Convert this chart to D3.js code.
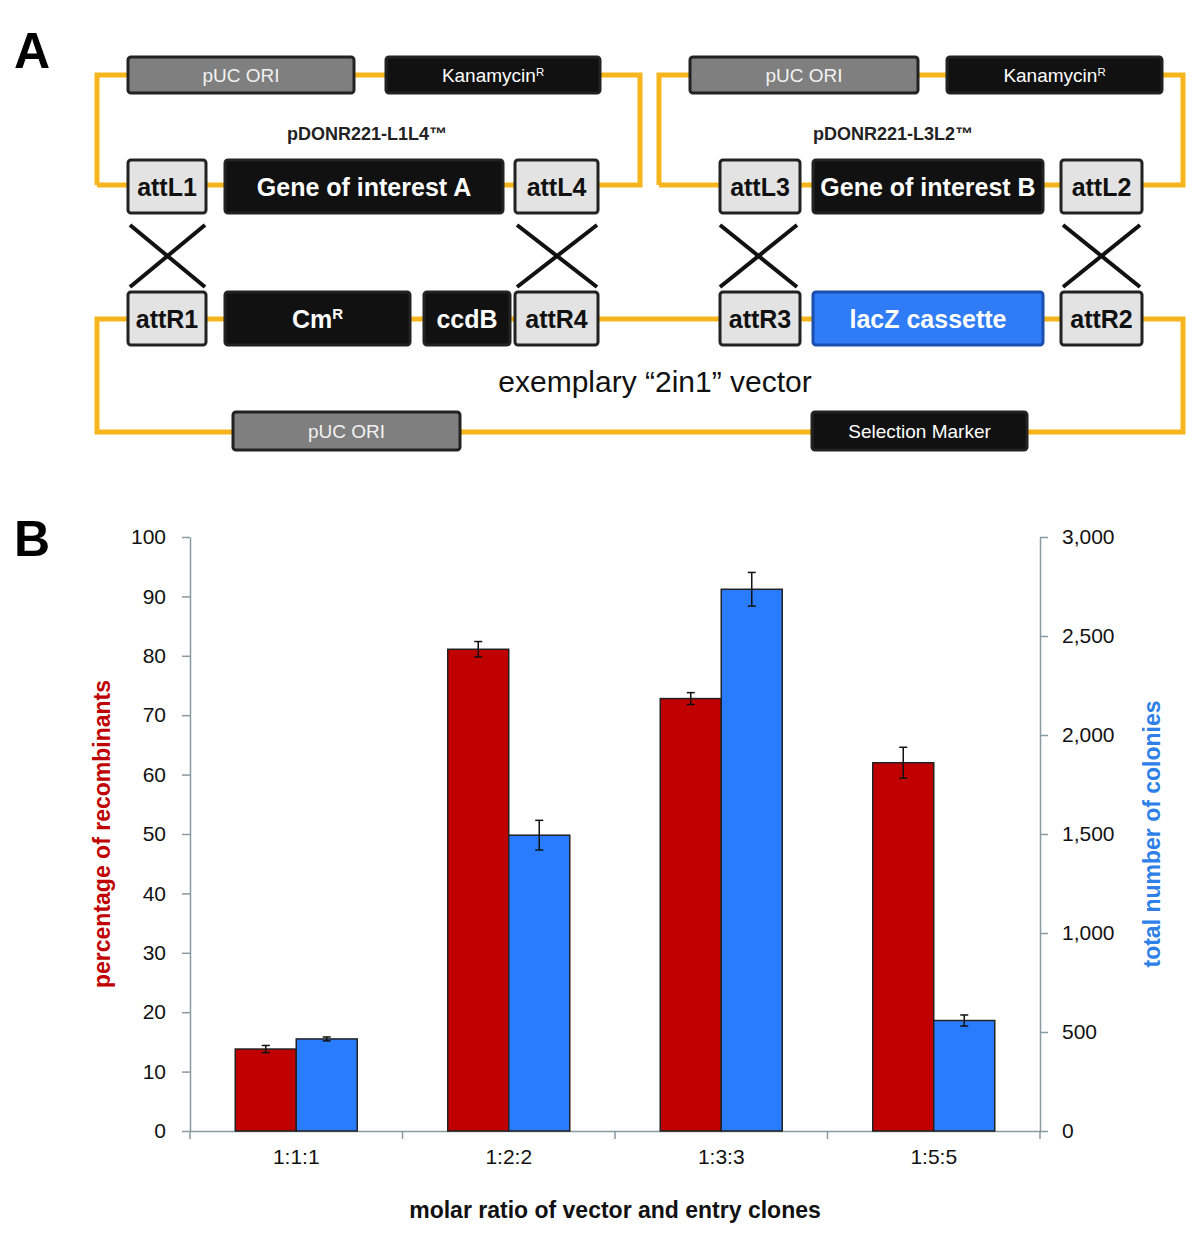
<!DOCTYPE html>
<html>
<head>
<meta charset="utf-8">
<script src="https://cdn.jsdelivr.net/npm/d3@7"></script>
<style>
  body { margin: 0; background: #fff; }
  svg { display: block; font-family: "Liberation Sans", Arial, sans-serif; }
</style>
</head>
<body>
<div id="chart"></div>
<script>
const categories = ['1:1:1', '1:2:2', '1:3:3', '1:5:5']
const recombinants = [13.8, 81.1, 72.8, 62.0]
const recombinantsErr = [0.6, 1.3, 1.0, 2.6]
const colonies = [465, 1494, 2736, 558]
const coloniesErr = [10, 75, 85, 28]
const leftTicks = [0, 10, 20, 30, 40, 50, 60, 70, 80, 90, 100]
const rightTicks = [0, 500, 1000, 1500, 2000, 2500, 3000]

// panel A boxes: [x0, x1, y0, y1, label, kind, sup]
const boxes = [
  [128, 354, 57, 93, 'pUC ORI', 'grey'], [386, 600, 57, 93, 'Kanamycin', 'black', 'R'],
  [690, 918, 57, 93, 'pUC ORI', 'grey'], [947, 1162, 57, 93, 'Kanamycin', 'black', 'R'],
  [128, 206, 160, 213, 'attL1', 'light'], [225, 503, 160, 213, 'Gene of interest A', 'bigblack'],
  [515, 598, 160, 213, 'attL4', 'light'], [720, 800, 160, 213, 'attL3', 'light'],
  [813, 1043, 160, 213, 'Gene of interest B', 'bigblack'], [1061, 1142, 160, 213, 'attL2', 'light'],
  [128, 206, 292, 345, 'attR1', 'light'], [225, 410, 292, 345, 'Cm', 'bigblack', 'R'],
  [424, 510, 292, 345, 'ccdB', 'bigblack'], [515, 598, 292, 345, 'attR4', 'light'],
  [720, 800, 292, 345, 'attR3', 'light'], [813, 1043, 292, 345, 'lacZ cassette', 'blue'],
  [1061, 1142, 292, 345, 'attR2', 'light'],
  [233, 460, 412, 450, 'pUC ORI', 'grey'], [812, 1027, 412, 450, 'Selection Marker', 'black']
]
const crosses = [[130, 205], [517, 597], [720, 797], [1063, 1140]]

const svg = d3.select('#chart').append('svg').attr('width', 1200).attr('height', 1243)
const orange = '#f7b51c'

// ---- panel A ----
const a = svg.append('g')
a.append('text').attr('x', 14).attr('y', 68).attr('font-size', 50).attr('font-weight', 'bold').text('A')
const loops = [
  'M97,185 V75 H640 V185 H97', 'M659,185 V75 H1183 V185 H659',
  'M97,432 V319 H1183 V432 Z'
]
a.selectAll('path.loop').data(loops).join('path')
  .attr('d', d => d).attr('fill', 'none').attr('stroke', orange).attr('stroke-width', 5)
a.selectAll('line.cross').data(crosses.flatMap(c => [[c[0], 225, c[1], 287], [c[0], 287, c[1], 225]])).join('line')
  .attr('x1', d => d[0]).attr('y1', d => d[1]).attr('x2', d => d[2]).attr('y2', d => d[3])
  .attr('stroke', '#111').attr('stroke-width', 4)

const fills = { grey: '#7f7f7f', black: '#111', bigblack: '#111', light: '#e3e3e3', blue: '#2f7cf6' }
const bg = a.selectAll('g.box').data(boxes).join('g')
bg.append('rect')
  .attr('x', d => d[0]).attr('y', d => d[2]).attr('width', d => d[1] - d[0]).attr('height', d => d[3] - d[2])
  .attr('rx', 3).attr('fill', d => fills[d[5]])
  .attr('stroke', d => d[5] === 'blue' ? '#1a4fb0' : '#222').attr('stroke-width', 3)
const bt = bg.append('text')
  .attr('x', d => (d[0] + d[1]) / 2).attr('y', d => (d[2] + d[3]) / 2)
  .attr('dy', '0.36em').attr('text-anchor', 'middle')
  .attr('font-family', '"Liberation Sans Narrow", "Liberation Sans", Arial, sans-serif')
  .attr('font-size', d => d[5] === 'grey' || d[5] === 'black' ? 19 : 25)
  .attr('font-weight', d => d[5] === 'grey' || d[5] === 'black' ? 'normal' : 'bold')
  .attr('fill', d => d[5] === 'light' ? '#111' : (d[5] === 'grey' ? '#f2f2f2' : '#fff'))
  .text(d => d[4])
bt.filter(d => d[6]).append('tspan').attr('dy', '-0.55em').attr('font-size', '0.6em').text(d => d[6])

a.selectAll('text.title').data([[367, 'pDONR221-L1L4™'], [893, 'pDONR221-L3L2™']]).join('text')
  .attr('x', d => d[0]).attr('y', 140).attr('text-anchor', 'middle')
  .attr('font-size', 18).attr('font-weight', 'bold').attr('fill', '#222').text(d => d[1])
a.append('text').attr('x', 655).attr('y', 392).attr('text-anchor', 'middle')
  .attr('font-size', 30).attr('fill', '#111').text('exemplary \u201c2in1\u201d vector')

// ---- panel B ----
svg.append('text').attr('x', 14).attr('y', 556).attr('font-size', 50).attr('font-weight', 'bold').text('B')
const x0 = d3.scaleBand().domain(categories).range([190, 1040])
const x1 = d3.scaleBand().domain(['r', 'b']).range([0, 122]).paddingInner(0)
const yL = d3.scaleLinear().domain([0, 100]).range([1131, 537])
const yR = d3.scaleLinear().domain([0, 3000]).range([1131, 537])

const axisStyle = g => {
  g.selectAll('path,line').attr('stroke', '#8a9aa0').attr('stroke-width', 1.5)
  g.selectAll('text').attr('font-size', 21).attr('fill', '#111')
}
svg.append('g').attr('transform', 'translate(190,0)')
  .call(d3.axisLeft(yL).tickValues(leftTicks).tickSize(8).tickSizeOuter(0).tickPadding(16)).call(axisStyle)
svg.append('g').attr('transform', 'translate(1040,0)')
  .call(d3.axisRight(yR).tickValues(rightTicks).tickSize(8).tickSizeOuter(0).tickPadding(14)).call(axisStyle)
const xa = svg.append('g').attr('transform', 'translate(0,1131)')
  .call(d3.axisBottom(x0).tickSize(0).tickPadding(18)).call(axisStyle)
xa.selectAll('line.bnd').data(categories.concat(['end'])).join('line')
  .attr('x1', (d, i) => 190 + i * x0.step()).attr('x2', (d, i) => 190 + i * x0.step())
  .attr('y1', 0).attr('y2', 8).attr('stroke', '#8a9aa0').attr('stroke-width', 1.5)

const rows = categories.map((c, i) => ({ c, r: recombinants[i], re: recombinantsErr[i], b: colonies[i], be: coloniesErr[i] }))
const grp = svg.append('g').selectAll('g').data(rows).join('g')
  .attr('transform', d => `translate(${x0(d.c) + (x0.bandwidth() - 122) / 2},0)`)
grp.append('rect').attr('x', x1('r')).attr('width', x1.bandwidth())
  .attr('y', d => yL(d.r)).attr('height', d => yL(0) - yL(d.r))
  .attr('fill', '#c00000').attr('stroke', '#222').attr('stroke-width', 1.5)
grp.append('rect').attr('x', x1('b')).attr('width', x1.bandwidth())
  .attr('y', d => yR(d.b)).attr('height', d => yR(0) - yR(d.b))
  .attr('fill', '#2a7cff').attr('stroke', '#222').attr('stroke-width', 1.5)

const errs = rows.flatMap(d => [
  { c: d.c, cx: x1('r') + x1.bandwidth() / 2, lo: yL(d.r - d.re), hi: yL(d.r + d.re) },
  { c: d.c, cx: x1('b') + x1.bandwidth() / 2, lo: yR(d.b - d.be), hi: yR(d.b + d.be) }
])
const eg = svg.append('g').selectAll('g').data(errs).join('g')
  .attr('transform', d => `translate(${x0(d.c) + (x0.bandwidth() - 122) / 2 + d.cx},0)`)
  .attr('stroke', '#111').attr('stroke-width', 1.5)
eg.append('line').attr('y1', d => d.lo).attr('y2', d => d.hi)
eg.append('line').attr('x1', -4).attr('x2', 4).attr('y1', d => d.lo).attr('y2', d => d.lo)
eg.append('line').attr('x1', -4).attr('x2', 4).attr('y1', d => d.hi).attr('y2', d => d.hi)

svg.append('text').attr('x', 615).attr('y', 1218).attr('text-anchor', 'middle')
  .attr('font-size', 23).attr('font-weight', 'bold').attr('fill', '#111')
  .text('molar ratio of vector and entry clones')
svg.append('text').attr('transform', 'translate(110,834) rotate(-90)').attr('text-anchor', 'middle')
  .attr('font-size', 23).attr('font-weight', 'bold').attr('fill', '#c00000').text('percentage of recombinants')
svg.append('text').attr('transform', 'translate(1160,834) rotate(-90)').attr('text-anchor', 'middle')
  .attr('font-size', 23).attr('font-weight', 'bold').attr('fill', '#2e7fe8').text('total number of colonies')
</script>
</body>
</html>
